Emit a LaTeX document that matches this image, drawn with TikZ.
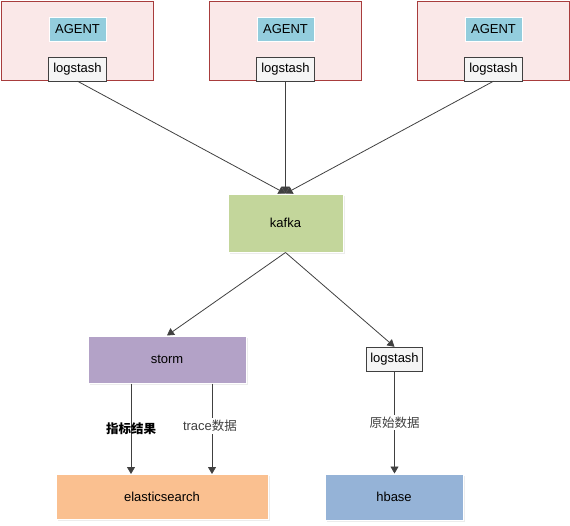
\documentclass[tikz,border=0pt]{standalone}
\usepackage{fontspec}
\setmainfont{Liberation Sans}
\newfontfamily\cjk{Noto Sans CJK SC}
\usepackage{tikz}
\usetikzlibrary{positioning,shadows,arrows.meta}
\definecolor{hostline}{HTML}{A83C3C}
\definecolor{hostfill}{HTML}{FAE8E8}
\definecolor{agentfill}{HTML}{93CDDD}
\definecolor{kafkafill}{HTML}{C3D69B}
\definecolor{stormfill}{HTML}{B3A2C7}
\definecolor{esfill}{HTML}{FAC090}
\definecolor{hbasefill}{HTML}{95B3D7}
\definecolor{wire}{HTML}{404040}

\begin{document}
\begin{tikzpicture}[x=1pt, y=-1pt, font=\fontsize{13}{15}\selectfont,
  host/.style={draw=hostline, fill=hostfill, minimum width=152pt, minimum height=79pt},
  agent/.style={draw=white, fill=agentfill, line width=1pt, minimum width=57pt, minimum height=24pt,
              drop shadow={opacity=0.2, shadow xshift=1pt, shadow yshift=-1pt}},
  shipper/.style={draw=wire, fill=black!4, minimum width=58pt, minimum height=24pt, inner sep=2pt},
  block/.style={draw=white, line width=1pt,
              drop shadow={opacity=0.15, shadow xshift=1.5pt, shadow yshift=-1.5pt}},
  arr/.style={-{Triangle[length=7pt, width=8pt]}, color=wire, line width=0.8pt},
  tag/.style={font=\cjk\fontsize{12.5}{14}\selectfont, inner sep=2pt}
]
\useasboundingbox (0,0) rectangle (570,525);

% three hosts with agents
\foreach \n/\x in {1/77, 2/285, 3/493} {
  \node[host] (host\n) at (\x,40.5) {};
  \node[agent] (agent\n) at (\x+0.5,29) {AGENT};
  \node[shipper] (ls\n) at (\x+0.5,69) {logstash};
}

\node[block, fill=kafkafill, minimum width=115pt, minimum height=58pt] (kafka) at (285.5,223) {kafka};
\node[block, fill=stormfill, minimum width=158pt, minimum height=47pt] (storm) at (167,359.5) {storm};
\node[shipper, minimum width=56pt] (ls4) at (394.5,359) {logstash};
\node[block, fill=esfill, minimum width=212pt, minimum height=45pt] (es) at (162,497) {elasticsearch};
\node[block, fill=hbasefill, minimum width=138pt, minimum height=46pt] (hbase) at (394,497) {hbase};

\draw[arr] (ls1.south) -- (kafka.north);
\draw[arr] (ls2.south) -- (kafka.north);
\draw[arr] (ls3.south) -- (kafka.north);
\draw[arr] (kafka.south) -- (storm.north);
\draw[arr] (kafka.south) -- (ls4.north);

\draw[arr] ([xshift=-36pt]storm.south) -- ([xshift=-36pt]storm.south |- es.north)
  node[tag, midway, text=black, font=\cjk\bfseries\fontsize{12.5}{14}\selectfont] (lbla) {指标结果};
\draw[arr] ([xshift=45pt]storm.south) -- ([xshift=45pt]storm.south |- es.north)
  node[tag, midway, fill=white, xshift=-2pt, yshift=3pt] (lblb) {{\fontsize{13}{15}\selectfont\rmfamily trace}数据};
\draw[arr] (ls4.south) -- (ls4.south |- hbase.north)
  node[tag, midway, fill=white] (lblc) {原始数据};
\end{tikzpicture}
\end{document}
